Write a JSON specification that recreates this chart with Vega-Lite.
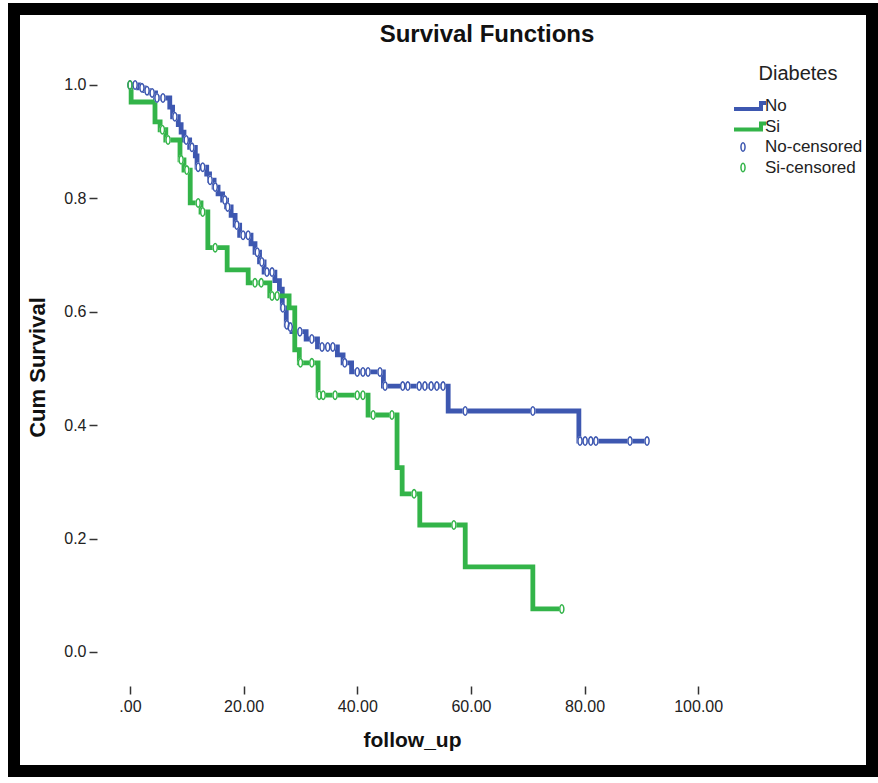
{
  "$schema": "https://vega.github.io/schema/vega-lite/v6.json",
  "width": 858,
  "height": 762,
  "autosize": {"type": "none"},
  "padding": {"left": 14, "top": 9, "right": 6, "bottom": 12},
  "background": "white",
  "config": {
    "font": "Liberation Sans",
    "view": {"stroke": "black", "strokeWidth": 12, "fill": "white"}
  },
  "title": {
    "text": "Survival Functions",
    "fontSize": 24,
    "fontWeight": "bold",
    "font": "Liberation Sans",
    "color": "#111111",
    "anchor": "middle",
    "offset": -38,
    "dx": 44
  },
  "datasets": {
    "curves": [
      {"series": "No", "t": 0, "S": 1.0},
      {"series": "No", "t": 1.5, "S": 0.995},
      {"series": "No", "t": 2.5, "S": 0.99},
      {"series": "No", "t": 3.5, "S": 0.986},
      {"series": "No", "t": 4.5, "S": 0.977},
      {"series": "No", "t": 7.0, "S": 0.961},
      {"series": "No", "t": 7.5, "S": 0.944},
      {"series": "No", "t": 8.5, "S": 0.93},
      {"series": "No", "t": 9.0, "S": 0.917},
      {"series": "No", "t": 9.5, "S": 0.903},
      {"series": "No", "t": 10.5, "S": 0.89},
      {"series": "No", "t": 11.5, "S": 0.875},
      {"series": "No", "t": 11.8, "S": 0.855},
      {"series": "No", "t": 13.5, "S": 0.843},
      {"series": "No", "t": 14.0, "S": 0.832},
      {"series": "No", "t": 14.8, "S": 0.82},
      {"series": "No", "t": 15.5, "S": 0.808},
      {"series": "No", "t": 16.3, "S": 0.797},
      {"series": "No", "t": 17.0, "S": 0.785},
      {"series": "No", "t": 17.8, "S": 0.77},
      {"series": "No", "t": 18.5, "S": 0.753},
      {"series": "No", "t": 19.3, "S": 0.735},
      {"series": "No", "t": 21.3, "S": 0.72},
      {"series": "No", "t": 22.0, "S": 0.705},
      {"series": "No", "t": 22.8, "S": 0.688},
      {"series": "No", "t": 23.6, "S": 0.67},
      {"series": "No", "t": 25.5, "S": 0.655},
      {"series": "No", "t": 26.3, "S": 0.64},
      {"series": "No", "t": 26.8, "S": 0.607},
      {"series": "No", "t": 27.5, "S": 0.577},
      {"series": "No", "t": 28.0, "S": 0.573},
      {"series": "No", "t": 28.5, "S": 0.565},
      {"series": "No", "t": 31.0, "S": 0.552},
      {"series": "No", "t": 33.0, "S": 0.538},
      {"series": "No", "t": 36.5, "S": 0.524},
      {"series": "No", "t": 37.5, "S": 0.51},
      {"series": "No", "t": 39.0, "S": 0.494},
      {"series": "No", "t": 44.6, "S": 0.469},
      {"series": "No", "t": 56.0, "S": 0.425},
      {"series": "No", "t": 79.0, "S": 0.372},
      {"series": "No", "t": 91.0, "S": 0.372},
      {"series": "Si", "t": 0, "S": 1.0},
      {"series": "Si", "t": 0.2, "S": 0.97},
      {"series": "Si", "t": 4.4, "S": 0.935},
      {"series": "Si", "t": 5.3, "S": 0.921},
      {"series": "Si", "t": 6.3, "S": 0.903},
      {"series": "Si", "t": 8.8, "S": 0.868},
      {"series": "Si", "t": 9.5, "S": 0.85},
      {"series": "Si", "t": 10.6, "S": 0.792},
      {"series": "Si", "t": 12.5, "S": 0.776},
      {"series": "Si", "t": 13.7, "S": 0.713},
      {"series": "Si", "t": 17.1, "S": 0.674},
      {"series": "Si", "t": 20.8, "S": 0.651},
      {"series": "Si", "t": 24.6, "S": 0.628},
      {"series": "Si", "t": 28.0, "S": 0.607},
      {"series": "Si", "t": 29.0, "S": 0.533},
      {"series": "Si", "t": 29.8, "S": 0.51},
      {"series": "Si", "t": 33.1, "S": 0.453},
      {"series": "Si", "t": 41.9, "S": 0.418},
      {"series": "Si", "t": 47.0, "S": 0.325},
      {"series": "Si", "t": 47.9, "S": 0.279},
      {"series": "Si", "t": 51.0, "S": 0.224},
      {"series": "Si", "t": 59.0, "S": 0.15},
      {"series": "Si", "t": 70.9, "S": 0.076},
      {"series": "Si", "t": 76.0, "S": 0.076}
    ],
    "censored": [
      {"series": "No-censored", "t": 0, "S": 1.0},
      {"series": "No-censored", "t": 0.9, "S": 1.0},
      {"series": "No-censored", "t": 2.1, "S": 0.995},
      {"series": "No-censored", "t": 3.0, "S": 0.99},
      {"series": "No-censored", "t": 3.9, "S": 0.986},
      {"series": "No-censored", "t": 4.75, "S": 0.977},
      {"series": "No-censored", "t": 5.8, "S": 0.977},
      {"series": "No-censored", "t": 7.9, "S": 0.944},
      {"series": "No-censored", "t": 9.9, "S": 0.903},
      {"series": "No-censored", "t": 10.9, "S": 0.89},
      {"series": "No-censored", "t": 12.0, "S": 0.855},
      {"series": "No-censored", "t": 12.8, "S": 0.855},
      {"series": "No-censored", "t": 14.1, "S": 0.832},
      {"series": "No-censored", "t": 15.0, "S": 0.82},
      {"series": "No-censored", "t": 16.7, "S": 0.797},
      {"series": "No-censored", "t": 17.2, "S": 0.785},
      {"series": "No-censored", "t": 18.8, "S": 0.753},
      {"series": "No-censored", "t": 19.9, "S": 0.735},
      {"series": "No-censored", "t": 20.8, "S": 0.735},
      {"series": "No-censored", "t": 22.4, "S": 0.705},
      {"series": "No-censored", "t": 23.2, "S": 0.688},
      {"series": "No-censored", "t": 24.1, "S": 0.67},
      {"series": "No-censored", "t": 25.0, "S": 0.67},
      {"series": "No-censored", "t": 26.9, "S": 0.607},
      {"series": "No-censored", "t": 27.6, "S": 0.577},
      {"series": "No-censored", "t": 28.2, "S": 0.573},
      {"series": "No-censored", "t": 29.9, "S": 0.565},
      {"series": "No-censored", "t": 32.0, "S": 0.552},
      {"series": "No-censored", "t": 33.8, "S": 0.538},
      {"series": "No-censored", "t": 34.8, "S": 0.538},
      {"series": "No-censored", "t": 35.7, "S": 0.538},
      {"series": "No-censored", "t": 37.8, "S": 0.51},
      {"series": "No-censored", "t": 40.0, "S": 0.494},
      {"series": "No-censored", "t": 41.0, "S": 0.494},
      {"series": "No-censored", "t": 41.9, "S": 0.494},
      {"series": "No-censored", "t": 44.0, "S": 0.494},
      {"series": "No-censored", "t": 44.9, "S": 0.469},
      {"series": "No-censored", "t": 48.0, "S": 0.469},
      {"series": "No-censored", "t": 48.9, "S": 0.469},
      {"series": "No-censored", "t": 50.9, "S": 0.469},
      {"series": "No-censored", "t": 51.9, "S": 0.469},
      {"series": "No-censored", "t": 53.0, "S": 0.469},
      {"series": "No-censored", "t": 54.0, "S": 0.469},
      {"series": "No-censored", "t": 55.1, "S": 0.469},
      {"series": "No-censored", "t": 59.0, "S": 0.425},
      {"series": "No-censored", "t": 70.9, "S": 0.425},
      {"series": "No-censored", "t": 79.2, "S": 0.372},
      {"series": "No-censored", "t": 80.1, "S": 0.372},
      {"series": "No-censored", "t": 81.1, "S": 0.372},
      {"series": "No-censored", "t": 82.0, "S": 0.372},
      {"series": "No-censored", "t": 88.0, "S": 0.372},
      {"series": "No-censored", "t": 91.0, "S": 0.372},
      {"series": "Si-censored", "t": 0, "S": 1.0},
      {"series": "Si-censored", "t": 5.7, "S": 0.921},
      {"series": "Si-censored", "t": 6.7, "S": 0.903},
      {"series": "Si-censored", "t": 9.0, "S": 0.868},
      {"series": "Si-censored", "t": 10.0, "S": 0.85},
      {"series": "Si-censored", "t": 12.0, "S": 0.792},
      {"series": "Si-censored", "t": 12.8, "S": 0.776},
      {"series": "Si-censored", "t": 15.0, "S": 0.713},
      {"series": "Si-censored", "t": 22.0, "S": 0.651},
      {"series": "Si-censored", "t": 23.1, "S": 0.651},
      {"series": "Si-censored", "t": 25.0, "S": 0.628},
      {"series": "Si-censored", "t": 25.9, "S": 0.628},
      {"series": "Si-censored", "t": 30.0, "S": 0.51},
      {"series": "Si-censored", "t": 32.0, "S": 0.51},
      {"series": "Si-censored", "t": 33.3, "S": 0.453},
      {"series": "Si-censored", "t": 34.0, "S": 0.453},
      {"series": "Si-censored", "t": 36.1, "S": 0.453},
      {"series": "Si-censored", "t": 40.0, "S": 0.453},
      {"series": "Si-censored", "t": 41.0, "S": 0.453},
      {"series": "Si-censored", "t": 42.8, "S": 0.418},
      {"series": "Si-censored", "t": 46.1, "S": 0.418},
      {"series": "Si-censored", "t": 50.0, "S": 0.279},
      {"series": "Si-censored", "t": 57.0, "S": 0.224},
      {"series": "Si-censored", "t": 76.0, "S": 0.076}
    ]
  },
  "layer": [
    {
      "mark": {"type": "rule", "color": "#e6e6e6", "strokeWidth": 1},
      "encoding": {
        "x": {"datum": -5.6, "type": "quantitative", "scale": {"domain": [-20.415, 130.59], "nice": false, "zero": false}},
        "x2": {"datum": 105.8},
        "y": {"datum": -0.055, "type": "quantitative", "scale": {"domain": [-0.2099, 1.134], "nice": false, "zero": false}}
      }
    },
    {
      "mark": {"type": "rule", "color": "#e6e6e6", "strokeWidth": 1},
      "encoding": {
        "x": {"datum": -5.6, "type": "quantitative"},
        "y": {"datum": -0.055, "type": "quantitative"},
        "y2": {"datum": 1.06}
      }
    },
    {
      "data": {"name": "curves"},
      "mark": {"type": "line", "interpolate": "step-after", "strokeWidth": 4.8, "strokeCap": "butt", "strokeJoin": "miter"},
      "encoding": {
        "x": {
          "field": "t", "type": "quantitative",
          "scale": {"domain": [-20.415, 130.59], "nice": false, "zero": false},
          "axis": {
            "values": [0, 20, 40, 60, 80, 100],
            "labelExpr": "datum.value == 0 ? '.00' : format(datum.value, '.2f')",
            "domain": false, "grid": false,
            "offset": -85,
            "tickSize": 8, "tickWidth": 1.5, "tickColor": "#333333",
            "labelPadding": 4, "labelFontSize": 16, "labelColor": "#222222", "labelFont": "Liberation Sans",
            "title": "follow_up", "titleFontSize": 21, "titleFontWeight": "bold", "titleColor": "#111111",
            "titlePadding": 15, "titleX": 398, "titleFont": "Liberation Sans"
          }
        },
        "y": {
          "field": "S", "type": "quantitative",
          "scale": {"domain": [-0.2099, 1.134], "nice": false, "zero": false},
          "axis": {
            "values": [0, 0.2, 0.4, 0.6, 0.8, 1.0],
            "format": ".1f",
            "domain": false, "grid": false,
            "offset": -83,
            "tickSize": 8, "tickWidth": 1.5, "tickColor": "#333333",
            "labelPadding": 3, "labelFontSize": 16, "labelColor": "#222222", "labelFont": "Liberation Sans",
            "title": "Cum Survival", "titleFontSize": 22, "titleFontWeight": "bold", "titleColor": "#111111",
            "titlePadding": 14, "titleY": 358, "titleFont": "Liberation Sans"
          }
        },
        "stroke": {
          "field": "series", "type": "nominal",
          "scale": {"domain": ["No", "Si"], "range": ["#3D57B0", "#33B449"]},
          "legend": null
        }
      }
    },
    {
      "data": {"name": "censored"},
      "mark": {"type": "point", "size": 400, "filled": true, "color": "white", "opacity": 1, "shape": "M0,-0.5A0.28,0.5,0,1,1,0,0.5A0.28,0.5,0,1,1,0,-0.5Z"},
      "encoding": {
        "x": {"field": "t", "type": "quantitative"},
        "y": {"field": "S", "type": "quantitative"}
      }
    },
    {
      "data": {"name": "censored"},
      "mark": {"type": "point", "size": 400, "filled": true, "opacity": 1, "strokeWidth": 0},
      "encoding": {
        "x": {"field": "t", "type": "quantitative"},
        "y": {"field": "S", "type": "quantitative"},
        "color": {
          "field": "series", "type": "nominal",
          "scale": {"domain": ["No", "Si", "No-censored", "Si-censored"], "range": ["#3D57B0", "#33B449", "#3D57B0", "#33B449"]},
          "legend": {
            "title": "Diabetes",
            "orient": "none",
            "legendX": 719,
            "legendY": 55,
            "titleFontSize": 20,
            "titleFontWeight": "normal",
            "titleColor": "#222222",
            "titleAnchor": "middle",
            "titleAlign": "center",
            "titlePadding": 12,
            "labelFontSize": 17,
            "labelColor": "#222222",
            "labelOffset": 12,
            "symbolSize": 400,
            "symbolStrokeWidth": 0,
            "rowPadding": 2.5
          }
        },
        "shape": {
          "field": "series", "type": "nominal",
          "scale": {
            "domain": ["No", "Si", "No-censored", "Si-censored"],
            "range": [
              "M-0.9,0.1L1.6,0.1L1.6,-0.5L2.3,-0.5L2.3,-0.1L2.0,-0.1L2.0,0.5L-0.9,0.5Z",
              "M-0.9,0.1L1.6,0.1L1.6,-0.5L2.3,-0.5L2.3,-0.1L2.0,-0.1L2.0,0.5L-0.9,0.5Z",
              "M0,-0.5A0.28,0.5,0,1,1,0,0.5A0.28,0.5,0,1,1,0,-0.5ZM0,-0.34A0.13,0.34,0,1,0,0,0.34A0.13,0.34,0,1,0,0,-0.34Z",
              "M0,-0.5A0.28,0.5,0,1,1,0,0.5A0.28,0.5,0,1,1,0,-0.5ZM0,-0.34A0.13,0.34,0,1,0,0,0.34A0.13,0.34,0,1,0,0,-0.34Z"
            ]
          }
        }
      }
    },
    {
      "mark": {"type": "text", "text": "P= 0.045", "fontSize": 16, "align": "left", "baseline": "middle", "color": "#111111", "font": "Liberation Sans"},
      "encoding": {
        "x": {"datum": 74.4, "type": "quantitative"},
        "y": {"datum": 0.827, "type": "quantitative"}
      }
    }
  ]
}
